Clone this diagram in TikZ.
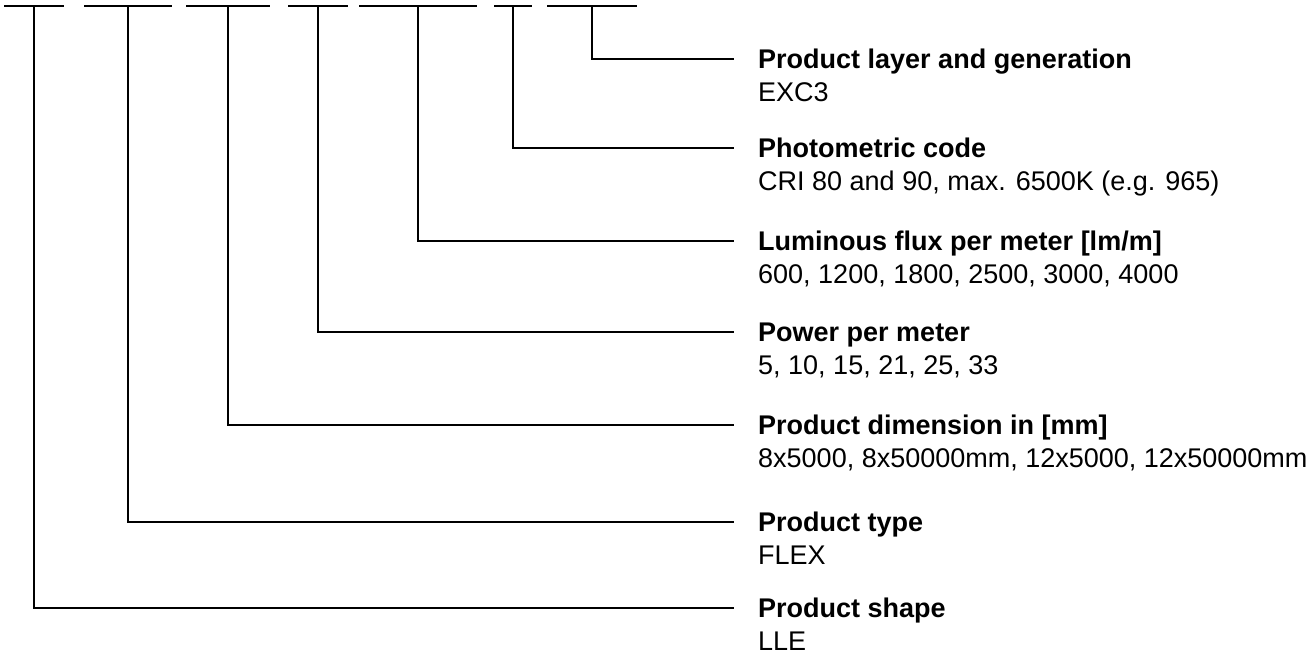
\documentclass[tikz,border=0pt]{standalone}
\usepackage{fontspec}
\setmainfont{Liberation Sans}
\usetikzlibrary{calc,positioning}
\tikzset{
  codeline/.style={line width=1.8pt},
  lead/.style={line width=1.8pt,line cap=rect},
  ttl/.style={font=\fontsize{27}{32}\selectfont\bfseries,inner sep=0pt,
              text height=19.3pt,text depth=0pt,anchor=west},
  sub/.style={font=\fontsize{27}{32}\selectfont,inner sep=0pt,
              text height=19.3pt,text depth=0pt}
}

\begin{document}
\begin{tikzpicture}[x=1pt,y=-1pt,line join=miter]
  \useasboundingbox (0,0) rectangle (1316,654);
  % code blanks along the top
  \foreach \xa/\xb/\nm in {4/64/shape,84/172/type,186/270/dim,288/348/power,
                           359/477/flux,494/532/photo,547/637/layer}{
    \draw[codeline] (\xa,6) -- (\xb,6);
    \coordinate (\nm) at ({(\xa+\xb)/2},6);
  }
  % titles and values
  \node[ttl] (ttlLayer) at (758,59)  {Product layer and generation};
  \node[ttl] (ttlPhoto) at (758,148) {Photometric code};
  \node[ttl] (ttlFlux)  at (758,241) {Luminous flux per meter [lm/m]};
  \node[ttl] (ttlPower) at (758,332) {Power per meter};
  \node[ttl] (ttlDim)   at (758,425) {Product dimension in [mm]};
  \node[ttl] (ttlType)  at (758,522) {Product type};
  \node[ttl] (ttlShape) at (758,608) {Product shape};
  \node[sub,below=13pt of ttlLayer.south west,anchor=north west] (valLayer) {EXC3};
  \node[sub,below=13pt of ttlPhoto.south west,anchor=north west] (valPhoto) {CRI 80 and 90, max. 6500K (e.g. 965)};
  \node[sub,below=13pt of ttlFlux.south west,anchor=north west]  (valFlux)  {600, 1200, 1800, 2500, 3000, 4000};
  \node[sub,below=13pt of ttlPower.south west,anchor=north west] (valPower) {5, 10, 15, 21, 25, 33};
  \node[sub,below=13pt of ttlDim.south west,anchor=north west]   (valDim)   {8x5000, 8x50000mm, 12x5000, 12x50000mm};
  \node[sub,below=13pt of ttlType.south west,anchor=north west]  (valType)  {FLEX};
  \node[sub,below=13pt of ttlShape.south west,anchor=north west] (valShape) {LLE};
  % leader lines
  \draw[lead] (layer) |- ([xshift=-25pt]ttlLayer.west);
  \draw[lead] (photo) |- ([xshift=-25pt]ttlPhoto.west);
  \draw[lead] (flux)  |- ([xshift=-25pt]ttlFlux.west);
  \draw[lead] (power) |- ([xshift=-25pt]ttlPower.west);
  \draw[lead] (dim)   |- ([xshift=-25pt]ttlDim.west);
  \draw[lead] (type)  |- ([xshift=-25pt]ttlType.west);
  \draw[lead] (shape) |- ([xshift=-25pt]ttlShape.west);
\end{tikzpicture}
\end{document}
